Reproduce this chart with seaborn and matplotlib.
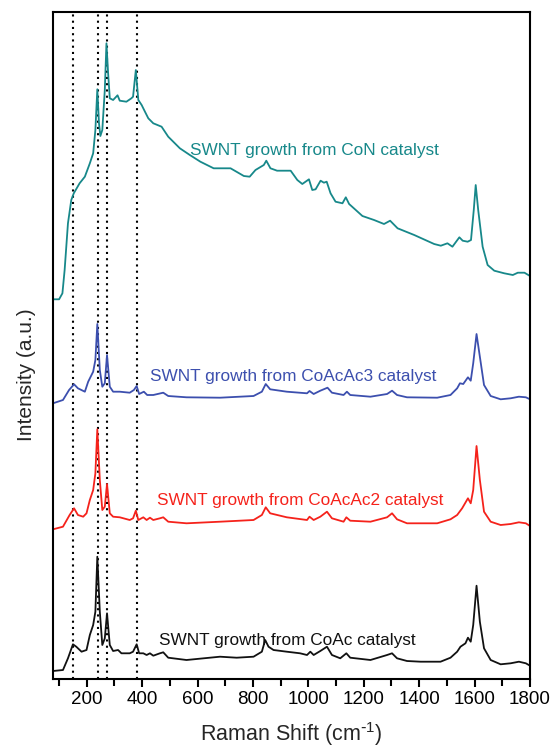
import numpy as np
import pandas as pd
import matplotlib
matplotlib.use("Agg")
import matplotlib.pyplot as plt
import seaborn as sns

# ---------------- data (intensity in arbitrary units) ----------------
coac_x = [78, 114, 132, 150, 162, 181, 199, 211, 223, 231, 238, 247, 256, 265, 273, 283, 295, 313,
          325, 355, 367, 380, 389, 404, 416, 428, 440, 464, 476, 494, 560, 681, 741, 802, 832, 844,
          856, 874, 922, 970, 995, 1007, 1019, 1043, 1067, 1085, 1115, 1137, 1151, 1224, 1284, 1302,
          1320, 1356, 1405, 1477, 1513, 1537, 1549, 1567, 1576, 1586, 1595, 1607, 1619, 1634, 1658,
          1694, 1730, 1760, 1785, 1800]
coac_y = [8, 9, 20.7, 34.7, 32.3, 27.3, 29, 44, 54, 67.3, 122.3, 67.3, 34, 40.7, 65.7, 34, 28, 29,
          25.7, 25.7, 27.3, 34.7, 25.7, 25.7, 24, 25.7, 23.3, 25.7, 26.7, 21.3, 19, 22.3, 21.3, 22.3,
          27.3, 39, 32.3, 29, 27.3, 25.7, 24, 27.3, 24, 28, 32.3, 24, 20.7, 25.7, 21.3, 19, 24, 25.7,
          20.7, 18, 17.3, 17.3, 21.3, 27.3, 32.3, 35.7, 41.3, 37.3, 54, 93.3, 57.3, 30.7, 19, 14.7,
          15.7, 17.3, 15.7, 13.3]

coacac2_x = [78, 114, 138, 154, 168, 187, 199, 211, 223, 231, 238, 247, 256, 265, 273, 283, 295, 319,
             355, 367, 377, 386, 404, 416, 428, 440, 464, 476, 494, 560, 681, 802, 832, 846, 862, 922,
             995, 1004, 1019, 1043, 1067, 1085, 1127, 1137, 1151, 1224, 1284, 1302, 1320, 1356, 1465,
             1513, 1537, 1555, 1576, 1586, 1595, 1607, 1619, 1634, 1658, 1694, 1730, 1760, 1785, 1800]
coacac2_y = [149.7, 152.3, 164, 170.7, 164, 162.3, 165.7, 179, 189, 205.7, 249.7, 199, 169, 172.3,
             195, 165.7, 162.3, 161.7, 159, 160.7, 168.3, 159, 161.7, 159, 161.3, 159, 160.7, 161.7,
             157.3, 155.7, 157.3, 159, 164, 171.7, 165.7, 161.7, 159, 162.3, 159, 162.3, 167.3, 160.7,
             157.3, 161.7, 158.3, 157.3, 161.7, 165.7, 159.7, 155.7, 155.7, 159.7, 164, 170.7, 180.7,
             175.7, 189, 233, 199, 167.3, 157.3, 154, 155, 156.7, 155.7, 153]

coacac3_x = [78, 114, 136, 154, 168, 193, 205, 223, 231, 238, 247, 256, 265, 273, 283, 295, 319, 355,
             370, 380, 389, 406, 418, 440, 476, 494, 560, 681, 802, 832, 846, 862, 922, 995, 1004,
             1019, 1043, 1069, 1085, 1127, 1139, 1151, 1224, 1284, 1302, 1320, 1356, 1465, 1513, 1537,
             1547, 1559, 1576, 1586, 1595, 1607, 1619, 1634, 1658, 1694, 1730, 1760, 1785, 1800]
coacac3_y = [275.7, 279, 289, 294.7, 290.7, 287.3, 297.3, 307.3, 319, 355, 309, 292.3, 295.7, 324,
             292.3, 287.3, 287.3, 286.3, 289, 293, 285, 287.3, 284, 284, 286.3, 283, 281.7, 281.3,
             283, 287.3, 295, 289.7, 287.3, 285.7, 288, 285, 288.3, 291.3, 286.3, 284, 287.3, 284,
             282.3, 285, 288.3, 284, 281.7, 281.3, 284, 290.7, 295.7, 295, 301.7, 298.3, 315.7, 345,
             322.3, 294, 283, 279.7, 280.7, 282.3, 281.7, 279.7]

con_x = [78, 100, 112, 120, 132, 144, 153, 174, 193, 211, 223, 231, 238, 244, 249, 256, 265, 271,
         277, 283, 295, 311, 319, 343, 361, 367, 377, 386, 398, 410, 422, 440, 470, 494, 536, 572,
         610, 658, 719, 767, 788, 809, 839, 848, 863, 887, 936, 960, 978, 1002, 1014, 1026, 1044,
         1056, 1066, 1080, 1098, 1123, 1135, 1147, 1171, 1195, 1237, 1273, 1295, 1322, 1382, 1454,
         1478, 1502, 1520, 1545, 1557, 1575, 1587, 1597, 1604, 1613, 1629, 1647, 1671, 1707, 1738,
         1756, 1780, 1800]
con_y = [379.7, 379.7, 385.7, 409, 455.7, 479, 485.7, 495.7, 502.3, 515.7, 525.7, 549, 589.7, 555.7,
         543, 549, 589, 635.7, 605.7, 580.7, 579, 583.7, 578.3, 577.3, 580.7, 582.3, 609, 579, 574,
         567.3, 560.7, 555.7, 552.3, 542.3, 530.7, 524,
         517.3, 510.7, 510.7, 503, 502.3, 509, 514, 518.3, 510.7, 508.3, 508.3, 499, 495, 499.7,
         489, 489.7, 498.3, 496.3, 497.3, 485.7, 477.3, 475.7, 481.7, 475, 469, 463, 459, 455,
         458.3, 450.7, 444, 435, 433.3, 435.7, 432.3, 441.7, 438.3, 437.3, 439, 469, 494, 469,
         432.3, 414, 408.3, 405.7, 404, 406.3, 406.3, 403]

samples = ["CoAc", "CoAcAc2", "CoAcAc3", "CoN"]
labels = ["SWNT growth from CoAc catalyst", "SWNT growth from CoAcAc2 catalyst",
          "SWNT growth from CoAcAc3 catalyst", "SWNT growth from CoN catalyst"]
colors = ["#111111", "#f5221b", "#3c4fae", "#17888a"]
label_x = [461, 454, 428, 574]
label_y = [39, 179, 302, 529]
ref_lines = [149, 241, 273, 383]
xticks_major = [200, 400, 600, 800, 1000, 1200, 1400, 1600, 1800]
xticks_minor = [100, 300, 500, 700, 900, 1100, 1300, 1500, 1700]

xs = [coac_x, coacac2_x, coacac3_x, con_x]
ys = [coac_y, coacac2_y, coacac3_y, con_y]
df = pd.concat([pd.DataFrame({"shift": x, "intensity": y, "sample": s})
                for x, y, s in zip(xs, ys, samples)], ignore_index=True)

# ---------------- style ----------------
sns.set_style("ticks")
plt.rcParams["font.family"] = ["Liberation Sans", "DejaVu Sans"]
plt.rcParams["mathtext.default"] = "regular"

fig = plt.figure(figsize=(5.53, 7.53), dpi=100)
ax = fig.add_axes([53 / 553, 74 / 753, 477 / 553, 667 / 753])

for xv in ref_lines:
    ax.axvline(xv, color="black", linestyle=(0, (1, 2)), linewidth=1.5, zorder=1)

sns.lineplot(data=df, x="shift", y="intensity", hue="sample", hue_order=samples,
             palette=dict(zip(samples, colors)), estimator=None, sort=False,
             linewidth=1.3, legend=False, ax=ax, zorder=2)

for lab, c, lx, ly in zip(labels, colors, label_x, label_y):
    ax.text(lx, ly, lab, color=c, fontsize=12.4, ha="left", va="center", zorder=3)

ax.set_xlim(78, 1800)
ax.set_ylim(0, 667)
ax.set_xticks(xticks_major)
ax.set_xticks(xticks_minor, minor=True)
ax.set_yticks([])
ax.tick_params(axis="x", which="major", direction="out", length=6, width=1.5,
               labelsize=13.5, pad=3, color="black", labelcolor="black")
ax.tick_params(axis="x", which="minor", direction="out", length=5, width=1.5, color="black")
ax.tick_params(axis="x", top=False)
for sp in ax.spines.values():
    sp.set_visible(True)
    sp.set_linewidth(1.5)
    sp.set_color("black")

ax.set_xlabel(r"Raman Shift (cm$^{\text{-}1}$)", fontsize=15.5, labelpad=8)
ax.set_ylabel("Intensity (a.u.)", fontsize=15)
ax.yaxis.set_label_coords(-0.035, 0.456)

fig.savefig("out.png", dpi=100)
